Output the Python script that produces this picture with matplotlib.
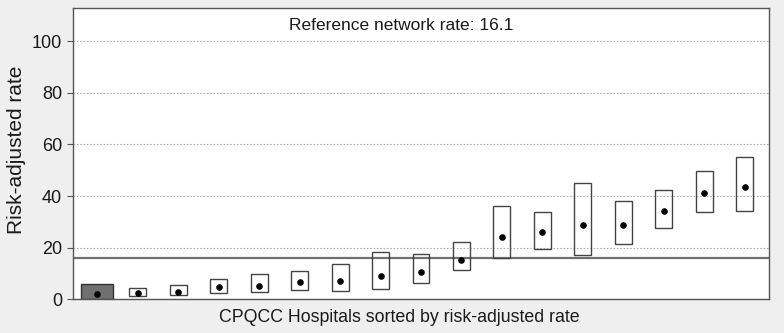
import matplotlib
matplotlib.use("Agg")
import matplotlib.pyplot as plt
from matplotlib.patches import Rectangle

plt.rcParams['font.family'] = ['Liberation Sans', 'DejaVu Sans']

hospitals = list(range(1, 18))
rates = [1.9, 2.4, 2.9, 4.6, 5.3, 6.7, 7.1, 9.1, 10.7, 15.3, 24.0, 26.0, 28.8, 28.8, 34.3, 41.1, 43.6]
lower = [0.0, 1.2, 1.5, 2.3, 2.7, 3.6, 3.3, 4.1, 6.3, 11.2, 16.0, 19.4, 17.1, 21.3, 27.8, 33.7, 34.3]
upper = [5.8, 4.5, 5.4, 8.0, 9.9, 11.0, 13.6, 18.4, 17.4, 22.1, 36.0, 33.8, 45.2, 38.0, 42.2, 49.7, 55.3]
highlight = 0
network_rate = 16.1
yticks = [0, 20, 40, 60, 80, 100]

fig = plt.figure(figsize=(7.84, 3.33), dpi=100, facecolor='#efefef')
ax = fig.add_axes([73/784, 1-299.3/333, 696/784, (299.3-8)/333])
ax.set_facecolor('white')

for i, (h, r, lo, hi) in enumerate(zip(hospitals, rates, lower, upper)):
    if i == highlight:
        w = 0.8
        ax.add_patch(Rectangle((h - w/2, lo), w, hi - lo, facecolor='#707070',
                               edgecolor='#333333', lw=1.0, zorder=3))
    else:
        w = 0.42
        ax.add_patch(Rectangle((h - w/2, lo), w, hi - lo, facecolor='none',
                               edgecolor='#444444', lw=1.0, zorder=3))
ax.scatter(hospitals, rates, s=14, color='black', zorder=4)

ax.axhline(network_rate, color='#707070', lw=1.6, zorder=2)
for t in yticks[1:]:
    ax.axhline(t, color='#b0b0b0', lw=0.8, ls=(0, (1.5, 1.5)), zorder=1)

ax.set_xlim(0.4, 17.6)
ax.set_ylim(0, 112.9)
ax.set_yticks(yticks)
ax.set_yticklabels([str(t) for t in yticks], fontsize=13, color='#1a1a1a')
ax.set_xticks([])
ax.tick_params(axis='y', length=4, color='#555555', pad=4)
for s in ax.spines.values():
    s.set_color('#555555')
    s.set_linewidth(1.0)

ax.text(0.472, 106.3, f"Reference network rate: {network_rate}", transform=ax.get_yaxis_transform(),
        ha='center', va='center', fontsize=12.5, color='#1a1a1a')
fig.text(399/784, 1-317/333, "CPQCC Hospitals sorted by risk-adjusted rate", ha='center', va='center',
         fontsize=12.8, color='#1a1a1a')
fig.text(17/784, 1-150/333, "Risk-adjusted rate", ha='center', va='center', rotation=90,
         fontsize=15, color='#1a1a1a')

fig.savefig('out.png', dpi=100, facecolor=fig.get_facecolor())
